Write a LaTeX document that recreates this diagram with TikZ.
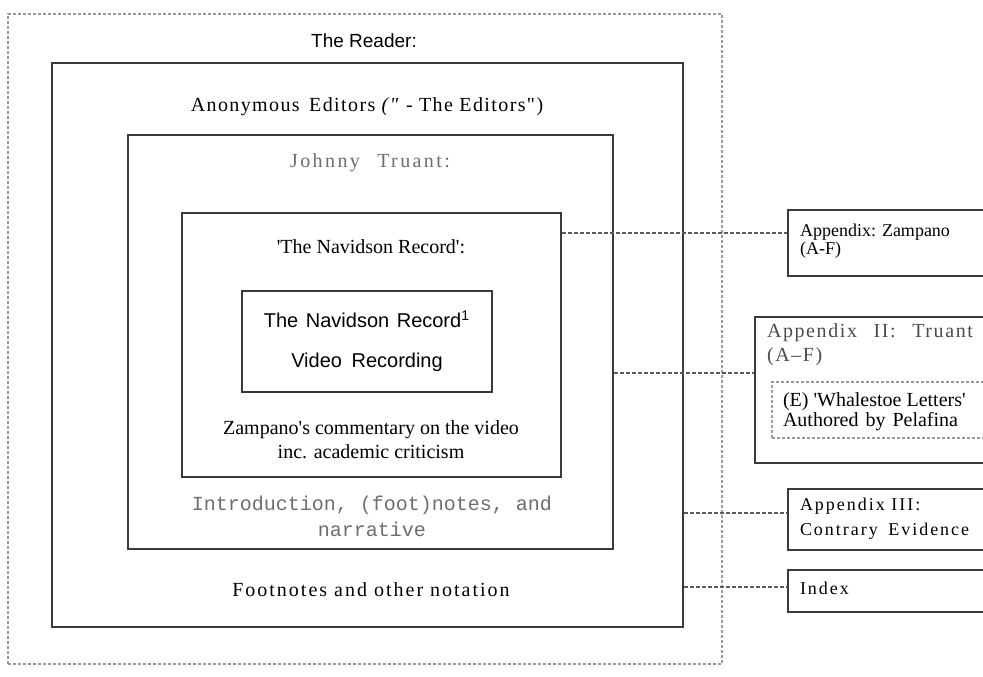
\documentclass[tikz,border=0pt]{standalone}
\usepackage{fontspec}
\setmainfont{Liberation Serif}
\newfontfamily\tms{Liberation Serif}
\newfontfamily\tmsEd{Liberation Serif}[LetterSpace=7]
\newfontfamily\tmsJt{Liberation Serif}[LetterSpace=12]
\newfontfamily\tmsTw{Liberation Serif}[LetterSpace=8]
\newfontfamily\tmsFn{Liberation Serif}[LetterSpace=10]
\newfontfamily\tmsAp{Liberation Serif}[LetterSpace=11]
\newfontfamily\arl{Liberation Sans}
\newfontfamily\cou{Liberation Mono}
\usetikzlibrary{fit}
\definecolor{boxc}{HTML}{3A3A3A}
\definecolor{dashc}{HTML}{9A9A9A}
\definecolor{connc}{HTML}{5A5A5A}
\definecolor{greytxt}{HTML}{6E6E6E}
\tikzset{
  solidbox/.style={draw=boxc, line width=1pt, inner sep=0pt},
  dashbox/.style={draw=dashc, line width=0.6pt, dash pattern=on 1.5pt off 1pt, inner sep=0pt},
  connline/.style={draw=connc, line width=0.8pt, dash pattern=on 2pt off 1pt},
  txt/.style={inner sep=0pt, outer sep=0pt},
}
\begin{document}
\begin{tikzpicture}[x=0.5pt,y=-0.5pt]
\fill[white] (0,0) rectangle (983,676);
\clip (0,0) rectangle (983,676);
% nested frames
\node[dashbox, fit={(8,14) (722,664)}] (reader) {};
\node[solidbox, fit={(52,63) (683,627)}] (ed) {};
\node[solidbox, fit={(128,135) (613,549)}] (jt) {};
\node[solidbox, fit={(182,213) (561,477)}] (nr) {};
\node[solidbox, fit={(242,291) (492,392)}] (vid) {};
% right-hand boxes
\node[solidbox, fit={(788,210) (1010,276)}] (appz) {};
\node[solidbox, fit={(755,317) (1010,463)}] (apptwo) {};
\node[dashbox, fit={(772,382) (1010,438)}] (whale) {};
\node[solidbox, fit={(788,489) (1010,550)}] (appthree) {};
\node[solidbox, fit={(788,570) (1010,612)}] (idx) {};
% connector levels
\coordinate (ya) at (0,233);
\coordinate (yb) at (0,373);
\coordinate (yc) at (0,513);
\coordinate (yd) at (0,587);
\draw[connline] (nr.east |- ya) -- (appz.west |- ya);
\draw[connline] (jt.east |- yb) -- (apptwo.west |- yb);
\draw[connline] (ed.east |- yc) -- (appthree.west |- yc);
\draw[connline] (ed.east |- yd) -- (idx.west |- yd);
% texts inside frames
\node[txt, font=\arl\fontsize{9.5}{11}\selectfont] (treader) at (364,41) {The Reader:};
\node[txt, font=\tmsEd\fontsize{10}{12}\selectfont] (ted) at (367,107) {Anonymous\hspace{1.5pt} Editors \textit{("} - The Editors")};
\node[txt, font=\tmsJt\fontsize{10}{12}\selectfont, text=greytxt] (tjt) at (370,163) {Johnny\hspace{5pt} Truant:};
\node[txt, font=\tms\fontsize{10}{12}\selectfont] (tnr) at (371,247) {'The Navidson Record':};
\node[txt, font=\arl\fontsize{10}{20}\selectfont, align=center] (tvid) at (367,341) {The\hspace{1pt} Navidson\hspace{1pt} Record\textsuperscript{1}\\Video\hspace{2pt} Recording};
\node[txt, font=\tms\fontsize{10}{12}\selectfont, align=center] (tzc) at (371,440) {Zampano's commentary on the video\\inc. academic criticism};
\node[txt, font=\cou\fontsize{10}{13}\selectfont, text=greytxt, align=center] (tintro) at (372,516) {Introduction, (foot)notes, and\\narrative};
\node[txt, font=\tmsFn\fontsize{10}{12}\selectfont] (tfn) at (371,590) {Footnotes and other notation};
% texts in right boxes
\node[txt, font=\tms\fontsize{9}{9}\selectfont, align=left, anchor=west] (tappz) at (800,241) {Appendix: Zampano\\(A-F)};
\node[txt, font=\tmsTw\fontsize{10}{12}\selectfont, text=black!70, align=left, anchor=west] (tapptwo) at (767,345) {Appendix\hspace{5pt} II:\hspace{5pt} Truant\\(A–F)};
\node[txt, font=\tms\fontsize{10}{10}\selectfont, align=left, anchor=west] (twhale) at (783,412) {(E) 'Whalestoe Letters'\\Authored\hspace{1pt} by\hspace{1pt} Pelafina};
\node[txt, font=\tmsAp\fontsize{9}{12.5}\selectfont, align=left, anchor=west] (tappthree) at (800,519) {Appendix III:\\Contrary\hspace{2pt} Evidence};
\node[txt, font=\tmsAp\fontsize{9}{11}\selectfont, anchor=west] (tidx) at (800,588) {Index};
\end{tikzpicture}
\end{document}
